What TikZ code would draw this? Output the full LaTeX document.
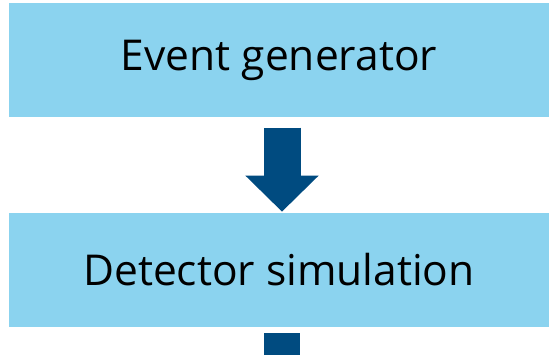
\documentclass[tikz,border=0pt]{standalone}
\usepackage{fontspec}
\setmainfont{Open Sans}
\usetikzlibrary{arrows.meta,positioning}
\definecolor{boxblue}{HTML}{8BD3EF}
\definecolor{arrowblue}{HTML}{004B80}

\begin{document}
\begin{tikzpicture}[x=1pt,y=1pt,
	stage/.style={fill=boxblue,minimum width=540pt,minimum height=114pt,inner sep=0pt,font=\fontsize{42.5}{50}\selectfont},
	flow/.style={draw=arrowblue,line width=37pt,-{Triangle[width=71pt,length=36pt]}}]
	\useasboundingbox (0,0) rectangle (551,355);
	\node[stage] (gen) at (279,294.5) {\raisebox{-2pt}{Event generator}};
	\node[stage,below=95pt of gen] (sim) {\raisebox{-2pt}{Detector simulation}};
	
	\coordinate (outflow) at (282,0);
	\draw[flow] ([xshift=3pt,yshift=-10pt]gen.south) -- ([xshift=3pt,yshift=1pt]sim.north);
	\draw[draw=arrowblue,line width=36pt] ([xshift=3pt,yshift=-6pt]sim.south) -- (outflow);
\end{tikzpicture}
\end{document}
